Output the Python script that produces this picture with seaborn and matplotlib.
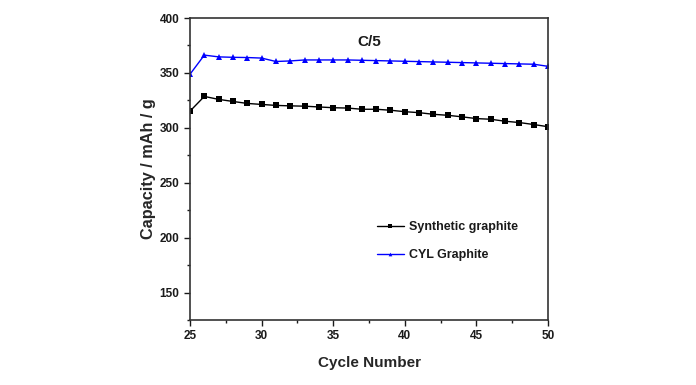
import pandas as pd
import matplotlib.pyplot as plt
import seaborn as sns
from matplotlib.ticker import MultipleLocator

# Valores
cycles = list(range(25, 51))
synthetic = [315.2, 328.6, 325.9, 324.0, 322.2, 321.3, 320.4, 320.0, 319.7, 319.0,
             318.3, 318.0, 316.9, 316.9, 316.0, 314.7, 313.8, 312.3, 311.4, 310.0,
             308.4, 307.8, 306.0, 304.8, 303.0, 301.0]
cyl = [348.8, 366.2, 364.6, 364.2, 364.0, 363.5, 360.4, 360.9, 361.8, 361.8,
       361.8, 361.8, 361.5, 361.2, 360.9, 360.6, 360.3, 360.0, 359.7, 359.4,
       359.1, 358.8, 358.5, 358.2, 357.9, 356.0]
series_names = ["Synthetic graphite", "CYL Graphite"]

data = pd.DataFrame({
    "Cycle": cycles * 2,
    "Capacity": synthetic + cyl,
    "Sample": [series_names[0]] * len(cycles) + [series_names[1]] * len(cycles),
})

sns.set_style("ticks")
plt.rcParams['font.family'] = ['Liberation Sans', 'DejaVu Sans']
plt.rcParams['font.weight'] = 'bold'
plt.rcParams['text.color'] = '#1a1a1a'

fig = plt.figure(figsize=(6.96, 3.85), dpi=100)
ax = fig.add_axes([190 / 696, 1 - 320 / 385, 358 / 696, 302 / 385])

sns.lineplot(data=data, x="Cycle", y="Capacity", hue="Sample", style="Sample",
             palette={"Synthetic graphite": "black", "CYL Graphite": "blue"},
             markers={"Synthetic graphite": "s", "CYL Graphite": "^"},
             dashes=False, markersize=3.8, linewidth=1.0, markeredgewidth=0, ax=ax)

ax.set_xlim(25, 50)
ax.set_ylim(125, 400)
ax.xaxis.set_major_locator(MultipleLocator(5))
ax.xaxis.set_minor_locator(MultipleLocator(2.5))
ax.yaxis.set_major_locator(MultipleLocator(50))
ax.yaxis.set_minor_locator(MultipleLocator(25))
ax.tick_params(which='major', direction='out', length=4, width=1, labelsize=8.5,
               colors='#1a1a1a')
ax.tick_params(which='minor', direction='out', length=2.5, width=1, colors='#1a1a1a')
for lab in ax.get_xticklabels() + ax.get_yticklabels():
    lab.set_fontweight('bold')
for sp in ax.spines.values():
    sp.set_visible(True)
    sp.set_linewidth(1.2)
    sp.set_color('#333333')

ax.set_xlabel("Cycle Number", fontsize=11, fontweight='bold', labelpad=10)
ax.set_ylabel("Capacity / mAh / g", fontsize=11.7, fontweight='bold', labelpad=3)
ax.text(0.5, 0.92, "C/5", transform=ax.transAxes, ha='center', va='center',
        fontsize=11, fontweight='bold')

ax.legend(title=None, frameon=False, loc='upper left', bbox_to_anchor=(0.49, 0.365),
          prop={'weight': 'bold', 'size': 9}, handlelength=2.2, handletextpad=0.4,
          labelspacing=1.3, markerscale=0.7)

plt.savefig("out.png", dpi=100)
